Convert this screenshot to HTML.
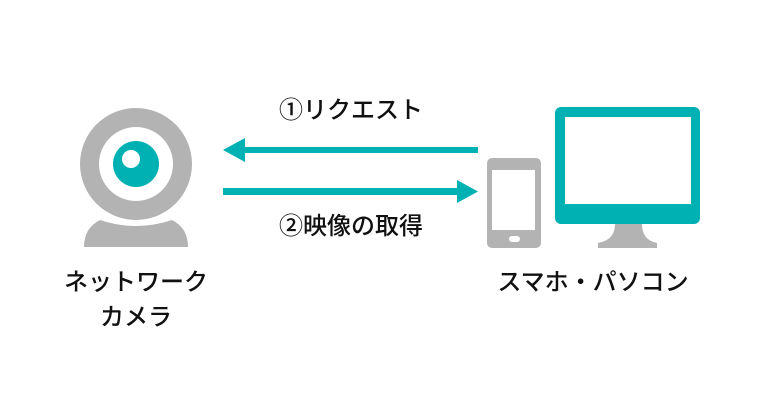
<!DOCTYPE html>
<html><head><meta charset="utf-8"><style>
body{margin:0;background:#fff;width:760px;height:400px;overflow:hidden}
svg text{font-family:"Liberation Sans","Noto Sans CJK JP",sans-serif;font-size:24px;font-weight:500;fill:#111}
</style></head><body>
<svg width="760" height="400" viewBox="0 0 760 400">
<!-- camera -->
<path d="M84 247 Q84 228 100 220 Q136 232 172 220 Q188 228 188 247 Z" fill="#b3b3b3"/>
<circle cx="136" cy="164" r="56" fill="#b3b3b3"/>
<circle cx="136" cy="164" r="37" fill="#fff"/>
<circle cx="136" cy="164" r="23" fill="#00b1b3"/>
<circle cx="131" cy="159" r="9" fill="#fff"/>
<!-- arrows -->
<rect x="243" y="147" width="235" height="6" fill="#00b1b3"/>
<polygon points="223,150 245,138 245,162" fill="#00b1b3"/>
<rect x="223" y="188" width="237" height="7" fill="#00b1b3"/>
<polygon points="478,191.5 457,180 457,203" fill="#00b1b3"/>
<!-- phone -->
<rect x="487" y="158" width="54" height="90" rx="5" fill="#b3b3b3"/>
<rect x="492" y="170" width="43" height="60" fill="#fff"/>
<rect x="509" y="236" width="11" height="6" rx="3" fill="#fff"/>
<!-- monitor -->
<rect x="555" y="107" width="145" height="117" rx="6" fill="#00b1b3"/>
<rect x="565" y="117" width="126" height="87" fill="#fff"/>
<path d="M615 224 L642 224 Q642 240 657 243 L657 248 L598 248 L598 243 Q615 240 615 224 Z" fill="#b3b3b3"/>
<!-- labels -->
<text x="351" y="118" text-anchor="middle">①リクエスト</text>
<text x="351" y="234" text-anchor="middle">②映像の取得</text>
<text x="136" y="290" text-anchor="middle">ネットワーク</text>
<text x="136" y="325" text-anchor="middle">カメラ</text>
<text x="593" y="290" text-anchor="middle">スマホ・パソコン</text>
</svg>
</body></html>
